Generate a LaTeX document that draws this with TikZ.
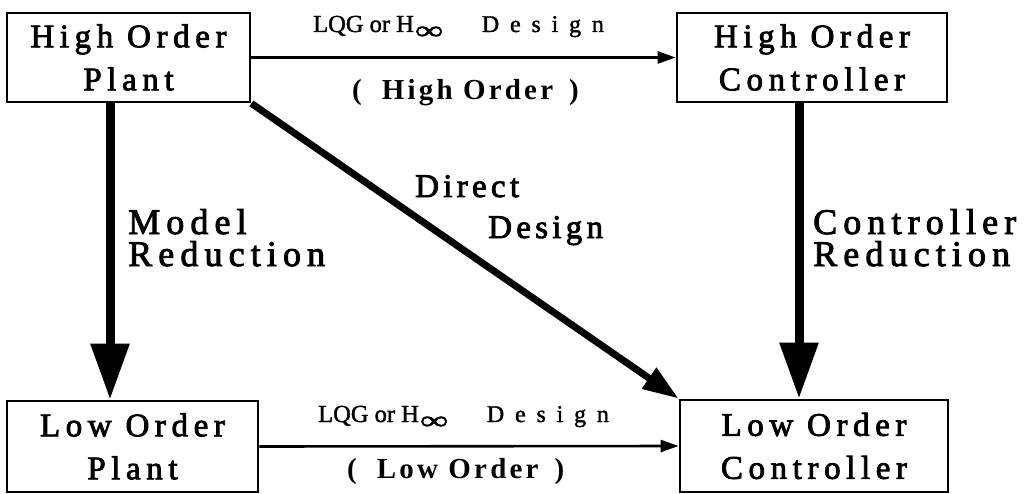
\documentclass[tikz,border=0pt]{standalone}
\usepackage{fontspec}
\setmainfont{Liberation Serif}
% letter-spaced faces for the block texts and the arrow labels
\newfontfamily\boxfont[LetterSpace=17,WordSpace=1.9,FakeBold=2.5]{Liberation Serif}
\newfontfamily\labelfont[LetterSpace=17,FakeBold=2.5]{Liberation Serif}
\newfontfamily\diagfont[LetterSpace=13,FakeBold=2.5]{Liberation Serif}
\newfontfamily\parenface[LetterSpace=11]{Liberation Serif}
\newfontfamily\designface[LetterSpace=45,FakeBold=1.5]{Liberation Serif}
\newfontfamily\lqgface[FakeBold=1.5]{Liberation Serif}
\usetikzlibrary{arrows.meta}
% wide, flat infinity set as a subscript
\newcommand{\infsub}{\raisebox{-7pt}{\scalebox{2.0}[1.3]{\fontsize{20}{20}\selectfont ∞}}}
\newcommand{\designlabel}{\lqgface\fontsize{24.5}{24.5}\selectfont
  LQG or H\kern1pt\makebox[67pt][l]{\infsub}%
  {\designface\fontsize{24}{24}\selectfont Design}}
\newcommand{\ordertext}[1]{(\hspace{20pt}#1\hspace{16pt})}
\begin{document}
\begin{tikzpicture}[x=1pt,y=-1pt,
  block/.style={draw, line width=2.8pt, inner sep=0pt, align=center,
    font=\boxfont\fontsize{33}{43}\selectfont},
  lbl/.style={inner sep=0pt, anchor=base west},
  biglbl/.style={lbl, align=left, font=\labelfont\fontsize{36}{32}\selectfont},
  diaglbl/.style={lbl, font=\diagfont\fontsize{33}{33}\selectfont},
  parlbl/.style={lbl, font=\parenface\bfseries\fontsize{29}{29}\selectfont},
  thinarrow/.style={line width=2.6pt, -{Triangle[length=18pt,width=12pt]}},
  fatarrow/.style={line width=9pt, -{Triangle[length=56pt,width=37pt]}},
  diagarrow/.style={line width=7pt, -{Triangle[length=36pt,width=24pt]}}]
\useasboundingbox (0,0) rectangle (1024,494);

% the four blocks
\node[block, minimum width=243pt, minimum height=89pt] (hop) at (128.5,57.5) {High Order\\Plant};
\node[block, minimum width=270pt, minimum height=89pt] (hoc) at (812,57.5) {High Order\\Controller};
\node[block, minimum width=251pt, minimum height=91pt] (lop) at (132.5,446.5) {Low Order\\Plant};
\node[block, minimum width=268pt, minimum height=92pt] (loc) at (814,446) {Low Order\\Controller};

% columns of the two reduction arrows
\coordinate (mrx) at (110,0);
\coordinate (crx) at (799,0);

% connectors
\draw[thinarrow] (hop.east) -- (hoc.west);
\draw[thinarrow] (lop.east) -- (loc.west);
\draw[fatarrow] (hop.south -| mrx) -- (lop.north -| mrx);
\draw[fatarrow] (hoc.south -| crx) -- (loc.north -| crx);
\draw[diagarrow] (hop.south east) -- (loc.north west);

% labels (base anchor of a two-line label is its last line)
\node[lbl] (tdes) at (313,32) {\designlabel};
\node[parlbl] (tord) at (352,100) {\ordertext{High Order}};
\node[lbl] (bdes) at (318,422) {\designlabel};
\node[parlbl] (bord) at (347,478) {\ordertext{Low Order}};
\node[biglbl] (mr) at (128,266) {Model\\Reduction};
\node[diaglbl] (dd1) at (415,197) {Direct};
\node[diaglbl] (dd2) at (488,238) {Design};
\node[biglbl] (cr) at (813,266) {Controller\\Reduction};
\end{tikzpicture}
\end{document}
